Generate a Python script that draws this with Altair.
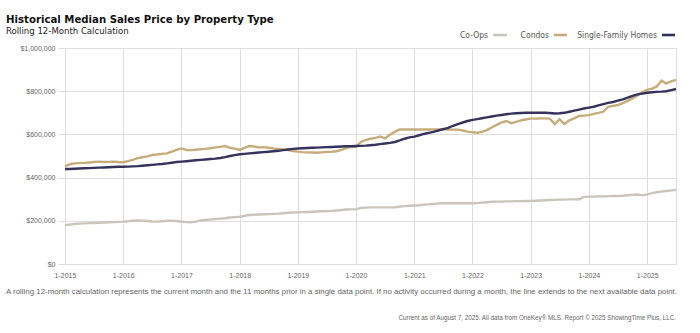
import altair as alt
import pandas as pd

# ---- data (thousands of dollars, monthly, Jan 2015 .. Jul 2025) ----
start_month = "2015-01-01"
n_months = 127

coops = [
    180,183,185,187,188,189,190,191,192,193,194,195,
    196,198,200,202,201,199,197,196,198,200,201,199,
    196,194,193,196,202,204,206,208,210,212,215,217,
    219,223,227,228,229,230,231,232,233,235,237,238,
    239,240,241,242,243,244,245,246,248,250,252,253,
    253,260,261,262,262,262,262,262,262,266,268,270,
    271,272,274,276,278,280,281,281,281,281,281,281,
    281,282,284,286,288,289,289,290,290,291,291,292,
    292,293,294,295,296,297,298,298,299,299,300,311,
    312,312,313,313,314,315,315,316,318,320,322,318,
    322,328,332,335,338,341,343,
]
condos = [
    452,462,466,467,468,470,472,474,472,473,474,472,
    471,476,482,490,494,498,505,507,510,512,520,528,
    535,528,527,529,531,533,536,540,542,546,538,534,
    528,538,546,544,540,541,538,535,533,530,527,523,
    520,518,517,516,515,517,519,520,522,528,536,543,
    543,565,574,580,584,590,582,598,612,623,623,623,
    623,623,623,623,623,623,623,623,622,622,618,613,
    610,608,612,620,632,644,654,662,652,658,665,669,
    673,673,674,674,673,648,670,648,665,674,685,687,
    689,695,700,705,728,732,736,745,755,767,780,795,
    806,812,821,849,836,845,852,
]
single_family = [
    440,440,441,442,443,444,445,446,447,448,449,450,
    450,451,452,453,455,457,459,461,463,466,469,472,
    474,476,478,480,482,484,486,488,491,495,500,504,
    508,510,512,514,516,518,520,522,524,527,530,533,
    535,536,537,538,539,540,541,542,543,544,545,545,
    546,547,548,550,552,555,558,561,565,572,580,586,
    590,596,602,607,612,618,624,630,640,648,655,662,
    667,671,675,679,683,687,690,693,696,698,699,700,
    700,700,700,700,699,697,698,700,705,710,715,720,
    724,728,734,740,746,750,756,762,770,778,785,789,
    793,795,797,798,800,805,810,
]

series_names = ["Co-Ops", "Condos", "Single-Family Homes"]
series_colors = ["#c9c5bd", "#c6ac7b", "#35335c"]
years = list(range(2015, 2026))

title_text = "Historical Median Sales Price by Property Type"
subtitle_text = "Rolling 12-Month Calculation"
note_text = ("A rolling 12-month calculation represents the current month and the 11 months prior "
             "in a single data point. If no activity occurred during a month, the line extends to "
             "the next available data point.")
source_text = ("Current as of August 7, 2025. All data from OneKey\u00ae MLS. "
               "Report \u00a9 2025 ShowingTime Plus, LLC.")

dates = pd.date_range(start_month, periods=n_months, freq="MS")
rows = []
for name, vals in zip(series_names, [coops, condos, single_family]):
    for d, v in zip(dates, vals):
        rows.append({"date": d.strftime("%Y-%m-%d"), "series": name, "price": v * 1000})
df = pd.DataFrame(rows)

NARROW = "DejaVu Sans Condensed, Liberation Sans Narrow, sans-serif"
REG = "Liberation Sans, Arial, Helvetica, sans-serif"
GRID = "#dedede"

x_enc = alt.X(
    "date:T",
    scale=alt.Scale(domain=[alt.DateTime(year=2015, month=1, date=1),
                            alt.DateTime(year=2025, month=7, date=1)]),
    axis=alt.Axis(
        title=None,
        values=[alt.DateTime(year=y, month=1, date=1) for y in years],
        format="%-m-%Y",
        labelFont=REG, labelFontSize=7, labelColor="#666666",
        labelAlign="center", labelFlush=False,
        grid=True, gridColor=GRID, domain=False, ticks=False,
        labelPadding=7,
    ),
)
y_enc = alt.Y(
    "price:Q",
    scale=alt.Scale(domain=[0, 1000000], nice=False),
    axis=alt.Axis(
        title=None,
        values=[0, 200000, 400000, 600000, 800000, 1000000],
        format="$,.0f",
        labelFont=REG, labelFontSize=7, labelColor="#666666",
        grid=True, gridColor=GRID, domain=False,
        ticks=True, tickSize=7, tickColor=GRID, labelPadding=3,
    ),
)

lines = alt.Chart(df).mark_line(strokeWidth=2.4, interpolate="linear").encode(
    x=x_enc,
    y=y_enc,
    color=alt.Color("series:N", scale=alt.Scale(domain=series_names, range=series_colors), legend=None),
    detail="series:N",
)

one = pd.DataFrame({"k": [0]})
base = alt.Chart(one)

texts = [
    base.mark_text(align="left", baseline="alphabetic", font=NARROW, fontSize=11.3,
                   fontWeight="bold", color="#111111").encode(
        x=alt.value(-59), y=alt.value(-25), text=alt.value(title_text)),
    base.mark_text(align="left", baseline="alphabetic", font=NARROW, fontSize=9.5,
                   color="#222222").encode(
        x=alt.value(-59), y=alt.value(-14), text=alt.value(subtitle_text)),
    base.mark_text(align="left", baseline="alphabetic", font=REG, fontSize=7.9,
                   color="#666666").encode(
        x=alt.value(-59), y=alt.value(246), text=alt.value(note_text)),
    base.mark_text(align="right", baseline="alphabetic", font=REG, fontSize=6.3,
                   color="#666666").encode(
        x=alt.value(611), y=alt.value(272), text=alt.value(source_text)),
]

legend_pos = [(423, 428, 442), (484, 489, 502), (592, 597, 610)]
legend_layers = []
for name, col, (tx, s0, s1) in zip(series_names, series_colors, legend_pos):
    legend_layers.append(
        base.mark_text(align="right", baseline="middle", font=NARROW, fontSize=8.5,
                       color="#555555").encode(
            x=alt.value(tx), y=alt.value(-13), text=alt.value(name)))
    legend_layers.append(
        base.mark_rule(strokeWidth=2.6, color=col).encode(
            x=alt.value(s0), x2=alt.value(s1), y=alt.value(-13)))

chart = alt.layer(lines, *texts, *legend_layers).properties(
    width=611, height=216,
    padding={"left": 65, "top": 48, "right": 24, "bottom": 69},
    autosize=alt.AutoSizeParams(type="none"),
    background="white",
).configure_view(stroke=GRID, strokeWidth=1)

chart.save("out.html", embed_options={"renderer": "svg", "actions": False})
